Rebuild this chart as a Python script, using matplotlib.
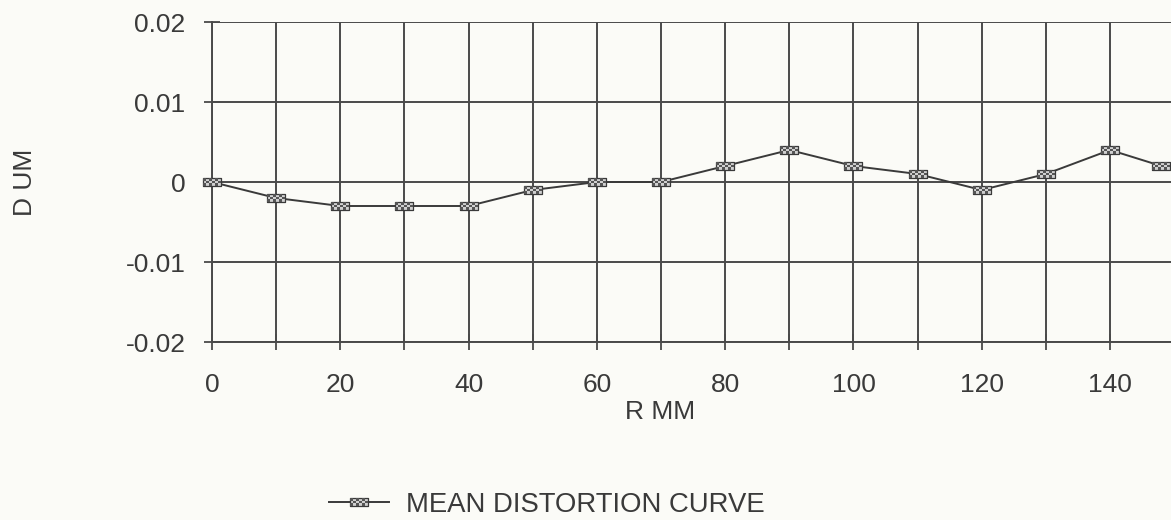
import numpy as np
import matplotlib.pyplot as plt
from matplotlib.path import Path
from matplotlib.lines import Line2D
from matplotlib.legend_handler import HandlerTuple

plt.rcParams['font.family'] = ['Liberation Sans', 'DejaVu Sans']

# data
r_mm = [0, 10, 20, 30, 40, 50, 60, 70, 80, 90, 100, 110, 120, 130, 140, 148]
d_um = [0.0, -0.002, -0.003, -0.003, -0.003, -0.001, 0.0, 0.0, 0.002, 0.004,
        0.002, 0.001, -0.001, 0.001, 0.004, 0.002]
x_ticks = list(range(0, 150, 10))
x_labels = [str(t) if t % 20 == 0 else '' for t in x_ticks]
y_ticks = [-0.02, -0.01, 0, 0.01, 0.02]
y_labels = ['-0.02', '-0.01', '0', '0.01', '0.02']
series_name = 'MEAN DISTORTION CURVE'

ink = '#3a3a3a'
grid_ink = '#4a4a4a'
paper = '#fbfbf7'
msize = 13


def rect_path(w=2.2, h=1.0):
    verts = [(-w / 2, -h / 2), (w / 2, -h / 2), (w / 2, h / 2), (-w / 2, h / 2), (-w / 2, -h / 2)]
    codes = [Path.MOVETO, Path.LINETO, Path.LINETO, Path.LINETO, Path.CLOSEPOLY]
    return Path(verts, codes)


def checker_path(w=2.2, h=1.0, nx=6, ny=3):
    verts, codes = [], []
    cw, ch = w / nx, h / ny
    for i in range(nx):
        for j in range(ny):
            if (i + j) % 2:
                continue
            x0, y0 = -w / 2 + i * cw, -h / 2 + j * ch
            verts += [(x0, y0), (x0 + cw, y0), (x0 + cw, y0 + ch), (x0, y0 + ch), (x0, y0)]
            codes += [Path.MOVETO, Path.LINETO, Path.LINETO, Path.LINETO, Path.CLOSEPOLY]
    return Path(verts, codes)


box = rect_path()
chk = checker_path()

fig = plt.figure(figsize=(11.71, 5.2), dpi=100, facecolor=paper)
ax = fig.add_axes([212 / 1171, 1 - 342 / 520, 1 - 212 / 1171, 320 / 520], facecolor=paper)

ax.plot(r_mm, d_um, color=ink, lw=1.4, marker=box, markersize=msize,
        markerfacecolor='#d0d0d0', markeredgecolor=ink, markeredgewidth=0.9, zorder=3, clip_on=False)
ax.plot(r_mm, d_um, ls='none', marker=chk, markersize=msize,
        markerfacecolor='#555555', markeredgewidth=0, zorder=4, clip_on=False)

ax.set_xlim(0, 149.5)
ax.set_ylim(-0.02, 0.02)
ax.set_xticks(x_ticks)
ax.set_xticklabels(x_labels)
ax.set_yticks(y_ticks)
ax.set_yticklabels(y_labels)
ax.grid(True, color=grid_ink, lw=1.4)
ax.set_axisbelow(True)
for side in ['top', 'right']:
    ax.spines[side].set_visible(False)
for side in ['left', 'bottom']:
    ax.spines[side].set_color(grid_ink)
    ax.spines[side].set_linewidth(1.4)
ax.tick_params(direction='inout', length=12, width=1.3, colors=grid_ink, labelsize=19, labelcolor=ink)
ax.tick_params(axis='x', pad=16)
ax.tick_params(axis='y', pad=13)

ax.set_xlabel('R MM', fontsize=19, color=ink)
ax.xaxis.set_label_coords(0.467, -0.18)
fig.text(25 / 1171, 1 - 182 / 520, 'D UM', rotation=90, fontsize=19, color=ink,
         ha='center', va='center')

h_box = Line2D([], [], color=ink, lw=1.4, marker=box, markersize=msize,
               markerfacecolor='#d0d0d0', markeredgecolor=ink, markeredgewidth=0.9)
h_chk = Line2D([], [], ls='none', marker=chk, markersize=msize,
               markerfacecolor='#555555', markeredgewidth=0)
fig.legend([(h_box, h_chk)], [series_name], loc='center left',
           bbox_to_anchor=(304 / 1171, 1 - 505 / 520),
           handler_map={tuple: HandlerTuple(ndivide=1, pad=0)},
           frameon=False, fontsize=19.8, handlelength=2.2, handletextpad=0.6, labelcolor=ink)

fig.savefig('out.png', dpi=100, facecolor=paper)
